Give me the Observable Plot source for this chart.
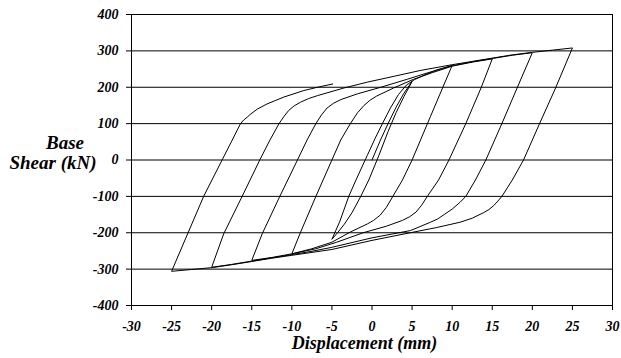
<!DOCTYPE html>
<html><head><meta charset="utf-8">
<script src="https://cdn.jsdelivr.net/npm/d3@7"></script>
<script src="https://cdn.jsdelivr.net/npm/@observablehq/plot@0.6"></script>
<style>
html,body{margin:0;padding:0;background:#fff}
#chart{width:621px;height:358px}
</style>
</head><body><div id="chart"></div>
<script>
// Axis ticks
const xTicks = [-30, -25, -20, -15, -10, -5, 0, 5, 10, 15, 20, 25, 30];
const yTicks = [-400, -300, -200, -100, 0, 100, 200, 300, 400];
const xTitle = "Displacement (mm)";
const yTitle = ["Base", "Shear (kN)"];
const FONT = "'Liberation Serif', 'Times New Roman', serif";

// Hysteresis branches: [displacement (mm), base shear (kN)]
const load0 = [[0,0],[1,52],[2,100],[3,145],[4,184],[5,216]];
const unload5 = [[5,216],[4,175],[3,130],[2,78],[0.85,12],[-0.4,-55],[-1.4,-100],[-2.5,-145],[-3.5,-178],[-4.3,-200],[-5,-218]];
const reload5 = [[-5,-218],[-4,-168],[-2.9,-100],[-2,-55],[-0.6,12],[0.4,60],[1.3,100],[2.3,143],[3.3,180],[4.3,206],[5.3,221],[6.5,233],[8,247],[10,260]];
const unload10 = [[10,260],[8.8,198],[7.3,120],[5,0],[3.8,-55],[2.6,-100],[1.8,-130],[1.0,-152],[0.2,-166],[-0.6,-176],[-2.7,-198],[-5,-226],[-7.5,-244],[-10,-258]];
const reload10 = [[-10,-258],[-8.9,-198],[-7,-100],[-5,0],[-3.9,55],[-2.7,100],[-1.8,130],[-1.0,150],[-0.2,165],[0.6,176],[2.7,198],[5.2,222],[7.5,240],[10,258],[12.5,269],[15,278]];
const unload15 = [[15,278],[13.6,198],[11.7,100],[9.6,0],[8.3,-55],[6.9,-100],[6.2,-124],[5.5,-143],[4.7,-156],[3.8,-166],[1.8,-182],[-1.1,-200],[-4.4,-226],[-7,-244],[-10,-258],[-12.5,-268],[-15,-276]];
const reload15 = [[-15,-276],[-13.7,-203],[-11.5,-100],[-9.3,0],[-8.1,55],[-7.0,100],[-6.3,124],[-5.6,143],[-4.8,156],[-3.9,166],[-1.8,182],[1.1,200],[4.4,222],[7,240],[10,259],[12.5,270],[15,279],[17.5,288],[20,295]];
const unload20 = [[20,295],[18.1,198],[16.2,100],[14.2,0],[12.9,-55],[11.7,-100],[11.0,-116],[10,-135],[9,-150],[8.2,-162],[7.3,-171],[4.8,-194],[0,-214],[-5,-240],[-7.5,-251],[-10,-260],[-12.5,-269],[-15,-278],[-17.5,-287],[-20,-295]];
const reload20 = [[-20,-295],[-18.5,-203],[-16.2,-100],[-14.0,0],[-12.8,52],[-11.6,100],[-11,119],[-10.4,136],[-9.7,149],[-8.9,159],[-7.9,169],[-6.8,177],[-3.5,198],[-0.6,214],[1.9,226],[6,246],[10,262],[12.5,271],[15,280],[17.5,289],[20,296],[22.5,302],[25,308]];
const unload25 = [[25,308],[22.9,198],[20.9,100],[18.9,0],[17.5,-55],[16.2,-100],[15.7,-113],[15.2,-125],[14.6,-136],[13.9,-145],[12.5,-160],[11,-171],[8,-186],[5,-199],[0,-221],[-5,-246],[-10,-262],[-12.5,-270],[-15,-279],[-17.5,-288],[-20,-296],[-22.5,-301],[-25,-306]];
const reload25 = [[-25,-306],[-23,-203],[-21,-100],[-18.7,0],[-17.5,52],[-16.4,100],[-16,110],[-15.5,119],[-15.1,127],[-14.3,140],[-13.1,154],[-12,164],[-11,173],[-8.5,191],[-6.8,200],[-4.9,209]];

const branches = [load0, unload5, reload5, unload10, reload10, unload15, reload15, unload20, reload20, unload25, reload25];
const path = branches.flat().map(([d, v]) => ({d, v}));

const plot = Plot.plot({
  width: 621, height: 358,
  marginLeft: 131, marginRight: 9, marginTop: 14, marginBottom: 53,
  style: {background: "#fff", color: "#000"},
  x: {domain: [-30, 30]},
  y: {domain: [-400, 400]},
  marks: [
    Plot.ruleY(yTicks, {stroke: "#000", strokeWidth: 1}),
    Plot.ruleX([-30, 30], {stroke: "#000", strokeWidth: 1}),
    Plot.axisX({ticks: xTicks, tickSize: 5, tickPadding: 11, label: null, tickFormat: d => String(d)}),
    Plot.axisY({ticks: yTicks, tickSize: 5, tickPadding: 8, label: null, tickFormat: d => String(d)}),
    Plot.line(path, {x: "d", y: "v", stroke: "#000", strokeWidth: 1, curve: "linear"})
  ]
});
plot.setAttribute("font-family", FONT);
plot.setAttribute("font-size", "14");
plot.setAttribute("font-weight", "bold");
plot.setAttribute("font-style", "italic");
document.getElementById("chart").appendChild(plot);

const svg = d3.select(plot);
svg.selectAll("text").attr("font-family", FONT).attr("font-weight", "bold").attr("font-style", "italic");
svg.append("text").attr("x", 364.5).attr("y", 349).attr("text-anchor", "middle")
  .attr("font-family", FONT).attr("font-weight", "bold").attr("font-style", "italic")
  .attr("font-size", 18).text(xTitle);
svg.append("text").attr("x", 65).attr("y", 148.5).attr("text-anchor", "middle")
  .attr("font-family", FONT).attr("font-weight", "bold").attr("font-style", "italic")
  .attr("font-size", 19).text(yTitle[0]);
svg.append("text").attr("x", 53).attr("y", 169).attr("text-anchor", "middle")
  .attr("font-family", FONT).attr("font-weight", "bold").attr("font-style", "italic")
  .attr("font-size", 19).text(yTitle[1]);
</script>
</body></html>
